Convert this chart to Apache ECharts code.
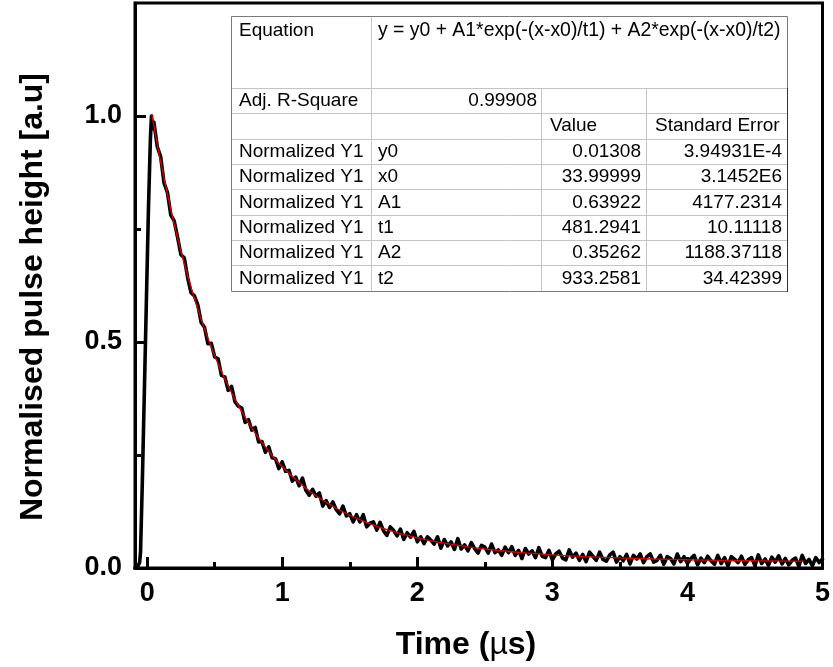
<!DOCTYPE html>
<html><head><meta charset="utf-8">
<script src="https://cdn.jsdelivr.net/npm/echarts@6/dist/echarts.min.js"></script>
<style>html,body{margin:0;padding:0;background:#fff}#c{width:833px;height:667px}</style>
</head><body><div id="c"></div>
<script>
// measured pulse (time in µs, normalised height)
const measuredData = [
[-0.09,0.000],[-0.075,0.001],[-0.064,0.004],[-0.056,0.012],[-0.049,0.035],[-0.035,0.200],[-0.020,0.400],[-0.005,0.600],[0.010,0.800],[0.024,0.950],[0.032,1.000],[0.040,0.972],
[0.050,0.986],[0.075,0.932],[0.100,0.910],[0.125,0.852],[0.150,0.831],[0.175,0.781],[0.200,0.768],[0.225,0.732],[0.250,0.693],[0.275,0.686],
[0.300,0.642],[0.325,0.609],[0.350,0.602],[0.375,0.582],[0.400,0.543],[0.425,0.532],[0.450,0.496],[0.475,0.497],[0.500,0.467],[0.525,0.463],
[0.550,0.426],[0.575,0.423],[0.600,0.393],[0.625,0.402],[0.650,0.368],[0.675,0.358],[0.700,0.354],[0.725,0.322],[0.750,0.328],[0.775,0.305],
[0.800,0.311],[0.825,0.279],[0.850,0.280],[0.875,0.256],[0.900,0.268],[0.925,0.244],[0.950,0.242],[0.975,0.220],[1.000,0.235],[1.025,0.214],
[1.050,0.216],[1.075,0.192],[1.100,0.201],[1.125,0.182],[1.150,0.199],[1.175,0.172],[1.200,0.161],[1.225,0.174],[1.250,0.159],[1.275,0.166],
[1.300,0.137],[1.325,0.149],[1.350,0.134],[1.375,0.146],[1.400,0.129],[1.425,0.120],[1.450,0.137],[1.475,0.115],[1.500,0.120],[1.525,0.102],
[1.550,0.118],[1.575,0.102],[1.600,0.118],[1.625,0.091],[1.650,0.099],[1.675,0.102],[1.700,0.084],[1.725,0.101],[1.750,0.082],[1.775,0.072],
[1.800,0.091],[1.825,0.083],[1.850,0.071],[1.875,0.086],[1.900,0.063],[1.925,0.078],[1.950,0.068],[1.975,0.081],[2.000,0.058],[2.025,0.069],
[2.050,0.054],[2.075,0.069],[2.100,0.062],[2.125,0.053],[2.150,0.069],[2.175,0.044],[2.200,0.063],[2.225,0.049],[2.250,0.058],[2.275,0.041],
[2.300,0.065],[2.325,0.042],[2.350,0.051],[2.375,0.038],[2.400,0.056],[2.425,0.043],[2.450,0.033],[2.475,0.050],[2.500,0.046],[2.525,0.033],
[2.550,0.053],[2.575,0.034],[2.600,0.040],[2.625,0.028],[2.650,0.046],[2.675,0.034],[2.700,0.047],[2.725,0.028],[2.750,0.039],[2.775,0.021],
[2.800,0.043],[2.825,0.031],[2.850,0.038],[2.875,0.023],[2.900,0.045],[2.925,0.026],[2.950,0.023],[2.975,0.039],[3.000,0.018],[3.025,0.031],
[3.050,0.037],[3.075,0.022],[3.100,0.018],[3.125,0.040],[3.150,0.024],[3.175,0.033],[3.200,0.017],[3.225,0.030],[3.250,0.014],[3.275,0.035],
[3.300,0.026],[3.325,0.017],[3.350,0.035],[3.375,0.019],[3.400,0.015],[3.425,0.029],[3.450,0.035],[3.475,0.013],[3.500,0.025],[3.525,0.016],
[3.550,0.030],[3.575,0.009],[3.600,0.028],[3.625,0.020],[3.650,0.031],[3.675,0.012],[3.700,0.025],[3.725,0.031],[3.750,0.013],[3.775,0.017],
[3.800,0.028],[3.825,0.008],[3.850,0.025],[3.875,0.021],[3.900,0.009],[3.925,0.031],[3.950,0.014],[3.975,0.025],[4.000,0.010],[4.025,0.021],
[4.050,0.028],[4.075,0.007],[4.100,0.022],[4.125,0.012],[4.150,0.026],[4.175,0.016],[4.200,0.008],[4.225,0.028],[4.250,0.010],[4.275,0.023],
[4.300,0.004],[4.325,0.025],[4.350,0.019],[4.375,0.012],[4.400,0.026],[4.425,0.008],[4.450,0.018],[4.475,0.023],[4.500,0.005],[4.525,0.029],
[4.550,0.010],[4.575,0.020],[4.600,0.006],[4.625,0.024],[4.650,0.013],[4.675,0.027],[4.700,0.009],[4.725,0.021],[4.750,0.007],[4.775,0.017],
[4.800,0.022],[4.825,0.004],[4.850,0.028],[4.875,0.010],[4.900,0.019],[4.925,0.005],[4.950,0.023],[4.975,0.012],[5.000,0.020]
];
// fitted double exponential decay curve
const fitData = [
[0.034,1.0049],[0.1,0.8989],[0.2,0.7610],[0.3,0.6461],[0.4,0.5501],[0.5,0.4698],[0.6,0.4025],[0.7,0.3460],[0.8,0.2984],[0.9,0.2582],
[1.0,0.2242],[1.2,0.1708],[1.4,0.1321],[1.6,0.1036],[1.8,0.0825],[2.0,0.0667],[2.2,0.0548],[2.4,0.0457],[2.6,0.0387],[2.8,0.0333],
[3.0,0.0291],[3.25,0.0251],[3.5,0.0222],[3.75,0.0199],[4.0,0.0183],[4.25,0.0170],[4.5,0.0161],[4.75,0.0154],[4.86,0.0151]
];
const xTickValues = [0,1,2,3,4,5];
const xMinorTickValues = [0.5,1.5,2.5,3.5,4.5];
const yTickValues = [0,0.5,1.0];
const yMinorTickValues = [0.25,0.75];
const xAxisTitle = 'Time (';
const xAxisUnit = 'µ';
const xAxisTitleEnd = 's)';
const yAxisTitle = 'Normalised pulse height [a.u]';
const equationLabel = 'Equation';
const equationText = 'y = y0 + A1*exp(-(x-x0)/t1) + A2*exp(-(x-x0)/t2)';
const adjLabel = 'Adj. R-Square';
const adjRSquare = '0.99908';
const headerValue = 'Value';
const headerError = 'Standard Error';
const seriesLabel = 'Normalized Y1';
const paramNames = ['y0','x0','A1','t1','A2','t2'];
const paramValues = ['0.01308','33.99999','0.63922','481.2941','0.35262','933.2581'];
const paramErrors = ['3.94931E-4','3.1452E6','4177.2314','10.11118','1188.37118','34.42399'];

const FF = '"Liberation Sans", Arial, Helvetica, sans-serif';
const chart = echarts.init(document.getElementById('c'), null, {renderer:'canvas'});

// table geometry
const TL = 231, TR = 787, TT = 16, TB = 291;
const rowLines = [88,113,139,164,189,215,240,265];
const c1 = 371, c2 = 541, c3 = 646;
const tfs = 19;
const g = [];
g.push({type:'rect', z:10, shape:{x:TL+0.5,y:TT+0.5,width:TR-TL,height:TB-TT}, style:{fill:'#fff', stroke:'#7a7a7a', lineWidth:1}});
rowLines.forEach(function(y){ g.push({type:'line', z:11, shape:{x1:TL+1,y1:y+0.5,x2:TR,y2:y+0.5}, style:{stroke:'#c4c4c4', lineWidth:1}}); });
g.push({type:'line', z:11, shape:{x1:c1+0.5,y1:TT+1,x2:c1+0.5,y2:TB}, style:{stroke:'#c4c4c4', lineWidth:1}});
[c2,c3].forEach(function(x){ g.push({type:'line', z:11, shape:{x1:x+0.5,y1:rowLines[0],x2:x+0.5,y2:TB}, style:{stroke:'#c4c4c4', lineWidth:1}}); });
g.push({type:'line', z:11, shape:{x1:TR+0.5,y1:rowLines[0],x2:TR+0.5,y2:TB+1}, style:{stroke:'#333', lineWidth:1}});
function txt(s, x, y, align, fs){
  g.push({type:'text', z:12, x:x, y:y, style:{text:s, fontSize:fs||tfs, fontFamily:FF, fill:'#000', align:align||'left', verticalAlign:'middle'}});
}
txt(equationLabel, 239, 31);
txt(equationText, 378, 31, 'left', 19.4);
txt(adjLabel, 239, 100.5);
txt(adjRSquare, 537, 100.5, 'right');
txt(headerValue, 550, 126);
txt(headerError, 655, 126);
for (let i=0;i<paramNames.length;i++){
  const y = (rowLines[i+2] + (i+3<rowLines.length ? rowLines[i+3] : TB))/2 + 0.5;
  txt(seriesLabel, 239, y);
  txt(paramNames[i], 378, y);
  txt(paramValues[i], 641, y, 'right');
  txt(paramErrors[i], 782, y, 'right');
}
// axis titles
g.push({type:'text', z:12, x:466, y:645, style:{
  text:xAxisTitle + '{mu|' + xAxisUnit + '}' + xAxisTitleEnd, fontSize:32, fontWeight:'bold', fontFamily:FF, fill:'#000', align:'center', verticalAlign:'middle',
  rich:{mu:{fontSize:32, fontWeight:'normal', fontFamily:FF, fill:'#000'}}}});
g.push({type:'text', z:12, x:33, y:297, rotation:Math.PI/2, style:{
  text:yAxisTitle, fontSize:32, fontWeight:'bold', fontFamily:FF, fill:'#000', align:'center', verticalAlign:'middle'}});

const labelStyle = {fontSize:27, fontWeight:'bold', fontFamily:FF, color:'#000'};
const option = {
  animation:false,
  backgroundColor:'#fff',
  grid:{left:135, right:6, top:3, bottom:99, show:true, borderColor:'#000', borderWidth:3, backgroundColor:'transparent'},
  xAxis:[
    {type:'value', min:-0.09, max:5, position:'bottom',
     axisLine:{show:true, onZero:false, lineStyle:{color:'#000', width:3}},
     axisTick:{show:true, inside:true, length:11, lineStyle:{color:'#000', width:3}, customValues:xTickValues},
     axisLabel:Object.assign({customValues:xTickValues, margin:12, formatter:function(v){return String(Math.round(v));}}, labelStyle),
     splitLine:{show:false}},
    {type:'value', min:-0.09, max:5, position:'bottom',
     axisLine:{show:false, onZero:false},
     axisTick:{show:true, inside:true, length:6, lineStyle:{color:'#000', width:3}, customValues:xMinorTickValues},
     axisLabel:{show:false, customValues:xMinorTickValues},
     splitLine:{show:false}}
  ],
  yAxis:[
    {type:'value', min:0, max:1.25, position:'left',
     axisLine:{show:true, onZero:false, lineStyle:{color:'#000', width:3}},
     axisTick:{show:true, inside:true, length:11, lineStyle:{color:'#000', width:3}, customValues:yTickValues},
     axisLabel:Object.assign({customValues:yTickValues, margin:13, formatter:function(v){return v.toFixed(1);}}, labelStyle),
     splitLine:{show:false}},
    {type:'value', min:0, max:1.25, position:'left',
     axisLine:{show:false, onZero:false},
     axisTick:{show:true, inside:true, length:6, lineStyle:{color:'#000', width:3}, customValues:yMinorTickValues},
     axisLabel:{show:false, customValues:yMinorTickValues},
     splitLine:{show:false}}
  ],
  series:[
    {type:'line', name:'Normalized Y1', data:measuredData, showSymbol:false, symbol:'none', clip:true,
     lineStyle:{color:'#000', width:3.6, join:'round', cap:'round'}, z:2},
    {type:'line', name:'Fit', data:fitData, showSymbol:false, symbol:'none', smooth:0.3, clip:true,
     lineStyle:{color:'#e00000', width:1.3}, z:3}
  ],
  graphic:g
};
chart.setOption(option);
</script>
</body></html>
